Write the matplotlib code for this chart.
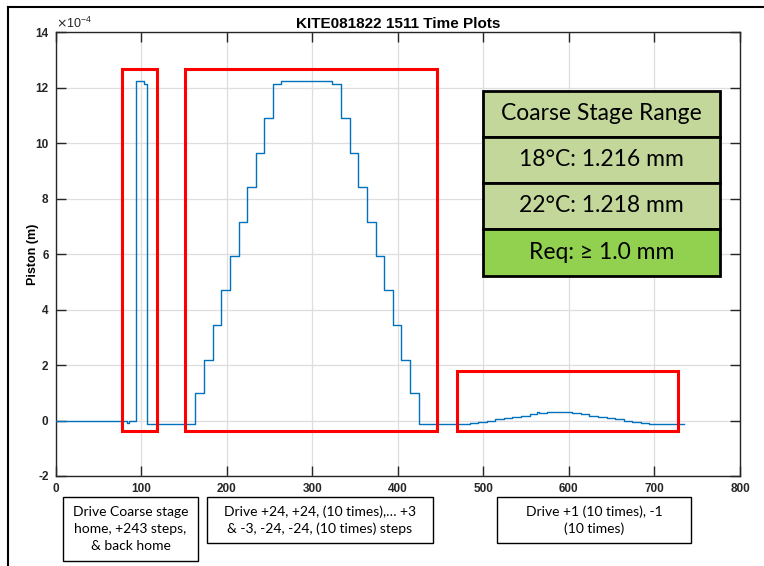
import matplotlib
matplotlib.use("Agg")
import matplotlib.pyplot as plt
from matplotlib.patches import Rectangle
from matplotlib.lines import Line2D

plt.rcParams["axes.unicode_minus"] = False

# Piston trace: sample times where the position changes, and the level held after each
time_pts = [0, 83, 86, 94.5, 103, 106.5,
            163, 173.5, 183.5, 193.5, 204, 214, 224, 234, 244, 254, 263.5,
            323.5, 334, 344, 354, 364, 374, 384, 394, 404, 414, 424.5,
            484, 494, 504, 514, 524, 534, 544, 554, 563, 564.5, 574,
            604, 614, 624, 634, 644, 654, 664, 674, 684, 694, 735]
piston_e4 = [0.00, -0.10, -0.03, 12.24, 12.14, -0.13,
             0.98, 2.20, 3.45, 4.70, 5.92, 7.17, 8.41, 9.66, 10.91, 12.14, 12.24,
             12.14, 10.91, 9.66, 8.41, 7.17, 5.92, 4.70, 3.45, 2.20, 0.98, -0.12,
             -0.08, -0.04, 0.00, 0.05, 0.09, 0.13, 0.17, 0.22, 0.30, 0.26, 0.31,
             0.27, 0.22, 0.18, 0.13, 0.09, 0.04, 0.00, -0.04, -0.09, -0.13, -0.14]

# Highlighted test segments: (x0, x1, y0, y1) in plot units (y in 1e-4 m)
segments = [(78, 119, -0.38, 12.68),
            (151.5, 445.5, -0.36, 12.68),
            (469.5, 728, -0.38, 1.77)]

x_ticks = list(range(0, 801, 100))
y_ticks = list(range(-2, 15, 2))

title = "KITE081822 1511 Time Plots"
y_label = "Piston (m)"

table_rows = ["Coarse Stage Range", "18\u00b0C: 1.216 mm", "22\u00b0C: 1.218 mm", "Req: \u2265 1.0 mm"]
table_colors = ["#C4D79B", "#C4D79B", "#C4D79B", "#92D050"]

notes = ["Drive Coarse stage\nhome, +243 steps,\n& back home",
         "Drive +24, +24, (10 times),\u2026 +3\n& -3, -24, -24, (10 times) steps",
         "Drive +1 (10 times), -1\n(10 times)"]

W, H = 764, 566
fig = plt.figure(figsize=(W / 100, H / 100), dpi=100)


def fx(px):
    return px / W


def fy(py):
    return 1 - py / H


ax_l, ax_r, ax_t, ax_b = 55.5, 740, 32.3, 476
ax = fig.add_axes([fx(ax_l), fy(ax_b), fx(ax_r - ax_l), (ax_b - ax_t) / H])

ax.plot(time_pts, piston_e4, drawstyle="steps-post", color="#0072BD", lw=1.0, zorder=3)

ax.set_xlim(0, 800)
ax.set_ylim(-2, 14)
ax.set_xticks(x_ticks)
ax.set_yticks(y_ticks)
ax.grid(True, color="#dedede", lw=0.9)
ax.set_axisbelow(True)
ax.tick_params(direction="in", length=7, width=1.0, color="#262626",
               top=True, right=True, labelsize=8.5, pad=5)
for lab in ax.get_xticklabels() + ax.get_yticklabels():
    lab.set_fontweight("bold")
    lab.set_family("Liberation Sans")
    lab.set_color("#262626")
for sp in ax.spines.values():
    sp.set_color("#262626")
    sp.set_linewidth(1.0)

ax.set_title(title, fontsize=11, fontweight="bold", family="Liberation Sans", pad=3)
ax.set_ylabel(y_label, fontsize=9, fontweight="bold", family="Liberation Sans", labelpad=-2.5)
ax.text(0.0, 1.004, r"$\times\mathregular{10^{-4}}$", transform=ax.transAxes,
        ha="left", va="bottom", fontsize=9, family="Liberation Sans", color="#262626")

for x0, x1, y0, y1 in segments:
    ax.add_patch(Rectangle((x0, y0), x1 - x0, y1 - y0, fill=False, ec="#FF0000",
                           lw=2.2, zorder=5, clip_on=False))

# Summary table
tb_l, tb_r = 483, 720
row_edges = [91, 137, 183, 229, 276]
for i, (txt, col) in enumerate(zip(table_rows, table_colors)):
    top, bot = row_edges[i], row_edges[i + 1]
    fig.add_artist(Rectangle((fx(tb_l), fy(bot)), fx(tb_r - tb_l), (bot - top) / H,
                             transform=fig.transFigure, fc=col, ec="black", lw=2.0, zorder=6))
    fig.text(fx((tb_l + tb_r) / 2), fy((top + bot) / 2), txt, ha="center", va="center",
             fontsize=16.5, family=["Lato", "DejaVu Sans"], color="black", zorder=7)

# Notes under the axis
note_boxes = [(63, 198, 497, 561), (207, 433, 497, 543), (497, 691, 497, 543)]
for txt, (l, r, t, b) in zip(notes, note_boxes):
    fig.add_artist(Rectangle((fx(l), fy(b)), fx(r - l), (b - t) / H,
                             transform=fig.transFigure, fc="white", ec="black", lw=1.0, zorder=6))
    fig.text(fx((l + r) / 2), fy((t + b) / 2), txt, ha="center", va="center",
             fontsize=10, family=["Lato", "DejaVu Sans"], linespacing=1.45, zorder=7)

# Outer frame
fig.add_artist(Line2D([fx(8), fx(8)], [fy(7), 0], transform=fig.transFigure, color="black", lw=1.5))
fig.add_artist(Line2D([fx(8), 1], [fy(7), fy(7)], transform=fig.transFigure, color="black", lw=1.5))

fig.savefig("out.png", dpi=100)
